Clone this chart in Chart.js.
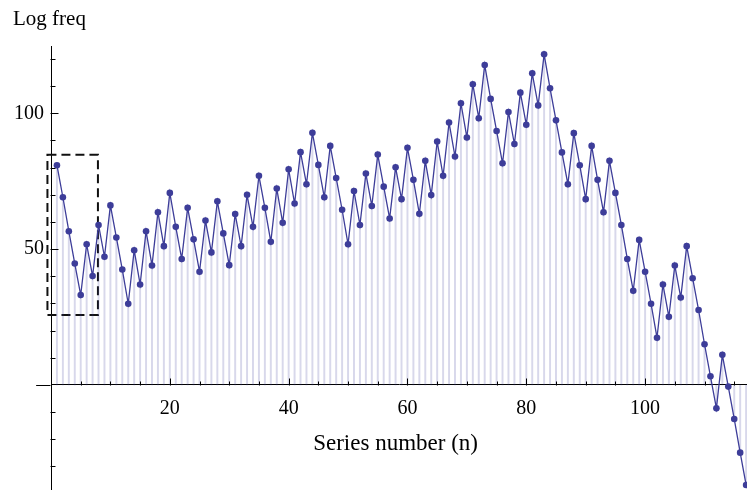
<!DOCTYPE html>
<html>
<head>
<meta charset="utf-8">
<script src="https://cdn.jsdelivr.net/npm/chart.js@4/dist/chart.umd.min.js"></script>
<style>
  html, body { margin: 0; padding: 0; background: #fff; }
  #wrap { width: 747px; height: 490px; }
</style>
</head>
<body>
<div id="wrap"><canvas id="freq-chart" width="747" height="490"></canvas></div>
<script>
// series number n
const seriesN = [
  1, 2, 3, 4, 5, 6, 7, 8, 9, 10, 11, 12, 13, 14, 15, 16, 17, 18, 19, 20,
  21, 22, 23, 24, 25, 26, 27, 28, 29, 30, 31, 32, 33, 34, 35, 36, 37, 38, 39, 40,
  41, 42, 43, 44, 45, 46, 47, 48, 49, 50, 51, 52, 53, 54, 55, 56, 57, 58, 59, 60,
  61, 62, 63, 64, 65, 66, 67, 68, 69, 70, 71, 72, 73, 74, 75, 76, 77, 78, 79, 80,
  81, 82, 83, 84, 85, 86, 87, 88, 89, 90, 91, 92, 93, 94, 95, 96, 97, 98, 99, 100,
  101, 102, 103, 104, 105, 106, 107, 108, 109, 110, 111, 112, 113, 114, 115, 116, 117
];

// log frequency for each n
const logFreq = [
  80.9, 69.1, 56.6, 44.7, 33.1, 51.8, 40.1, 58.9, 47.2, 66.1,
  54.3, 42.5, 29.9, 49.6, 37.0, 56.6, 44.0, 63.6, 51.1, 70.7,
  58.2, 46.4, 65.2, 53.6, 41.7, 60.5, 48.8, 67.6, 55.8, 44.1,
  62.9, 51.1, 70.0, 58.2, 77.0, 65.2, 52.7, 72.3, 59.7, 79.4,
  66.8, 85.7, 73.9, 92.8, 81.0, 69.1, 88.0, 76.2, 64.5, 51.8,
  71.4, 58.9, 77.8, 65.9, 84.8, 73.0, 61.3, 80.1, 68.4, 87.3,
  75.5, 63.0, 82.5, 69.9, 89.6, 77.0, 96.6, 84.1, 103.7, 91.1,
  110.7, 98.2, 117.8, 105.3, 93.5, 81.6, 100.5, 88.7, 107.6, 95.8,
  114.7, 102.9, 121.7, 109.2, 97.4, 85.6, 73.9, 92.7, 80.9, 68.4,
  88.0, 75.5, 63.6, 82.5, 70.7, 58.9, 46.4, 34.7, 53.4, 41.7,
  29.9, 17.4, 37.0, 25.1, 44.0, 32.2, 51.1, 39.3, 27.6, 15.0,
  3.2, -8.6, 11.1, -0.6, -12.5, -24.9, -36.8
];

const xTickLabels = [20, 40, 60, 80, 100];
const yTickLabels = [50, 100];
const xMinorTicks = [5, 10, 15, 25, 30, 35, 45, 50, 55, 65, 70, 75, 85, 90, 95, 105, 110, 115];
const yMinorTicks = [-30, -20, -10, 10, 20, 30, 40, 60, 70, 80, 90, 110, 120];

// dashed region around the first few terms
const boxN = [-0.6, 7.9];
const boxLog = [25.8, 84.7];

const xTitle = 'Series number (n)';
const yTitle = 'Log freq';

const ink = '#3d3d99';
const serif = '"Liberation Serif", "Times New Roman", serif';

function noPadding(scale) {
  scale.paddingLeft = 0;
  scale.paddingRight = 0;
  scale.paddingTop = 0;
  scale.paddingBottom = 0;
}

const dashedBox = {
  id: 'dashedBox',
  beforeDatasetsDraw(chart) {
    const { ctx, scales: { x, y } } = chart;
    const l = x.getPixelForValue(boxN[0]);
    const r = x.getPixelForValue(boxN[1]);
    const t = y.getPixelForValue(boxLog[1]);
    const b = y.getPixelForValue(boxLog[0]);
    ctx.save();
    ctx.strokeStyle = '#111';
    ctx.lineWidth = 2;
    ctx.setLineDash([9, 5]);
    ctx.strokeRect(l, t, r - l, b - t);
    ctx.restore();
  }
};

// inward tick marks, the short stub of the x axis left of the origin, and the titles
const axisMarks = {
  id: 'axisMarks',
  afterDraw(chart) {
    const { ctx, scales: { x, y } } = chart;
    const x0 = Math.round(x.getPixelForValue(0)) - 0.5;
    const y0 = Math.round(y.getPixelForValue(0)) + 0.5;
    ctx.save();
    ctx.strokeStyle = '#000';
    ctx.lineWidth = 1;
    ctx.beginPath();
    ctx.moveTo(x.getPixelForValue(-2.5), y0);
    ctx.lineTo(x0, y0);
    xTickLabels.forEach(v => {
      const px = Math.round(x.getPixelForValue(v)) + 0.5;
      ctx.moveTo(px, y0);
      ctx.lineTo(px, y0 - 7);
    });
    xMinorTicks.forEach(v => {
      const px = Math.round(x.getPixelForValue(v)) + 0.5;
      ctx.moveTo(px, y0);
      ctx.lineTo(px, y0 - 4);
    });
    yTickLabels.forEach(v => {
      const py = Math.round(y.getPixelForValue(v)) + 0.5;
      ctx.moveTo(x0, py);
      ctx.lineTo(x0 + 8, py);
    });
    yMinorTicks.forEach(v => {
      const py = Math.round(y.getPixelForValue(v)) + 0.5;
      ctx.moveTo(x0, py);
      ctx.lineTo(x0 + 5, py);
    });
    ctx.stroke();

    ctx.fillStyle = '#000';
    ctx.textBaseline = 'alphabetic';
    ctx.font = '21px ' + serif;
    ctx.textAlign = 'left';
    ctx.fillText(yTitle, 13, 25);
    ctx.font = '23px ' + serif;
    ctx.textAlign = 'center';
    ctx.fillText(xTitle, x.getPixelForValue(58), 450);
    ctx.restore();
  }
};

const ctx = document.getElementById('freq-chart').getContext('2d');

new Chart(ctx, {
  type: 'line',
  data: {
    labels: seriesN,
    datasets: [
      {
        type: 'line',
        data: logFreq,
        borderColor: ink,
        borderWidth: 1.3,
        pointRadius: 3.3,
        pointBackgroundColor: ink,
        pointBorderWidth: 0,
        tension: 0,
        clip: false,
        order: 0
      },
      {
        type: 'bar',
        data: logFreq,
        backgroundColor: 'rgba(61, 61, 153, 0.2)',
        barThickness: 1.3,
        clip: false,
        order: 1
      }
    ]
  },
  options: {
    responsive: false,
    animation: false,
    layout: {
      autoPadding: false,
      padding: { top: 46, left: 0, right: 0, bottom: 0 }
    },
    plugins: {
      legend: { display: false },
      tooltip: { enabled: false }
    },
    scales: {
      x: {
        type: 'linear',
        position: { y: 0 },
        min: 0,
        max: 117.15,
        offset: false,
        afterBuildTicks: s => { s.ticks = xTickLabels.map(v => ({ value: v })); },
        afterFit: noPadding,
        grid: { drawOnChartArea: false, drawTicks: false },
        border: { display: true, color: '#000', width: 1 },
        ticks: {
          autoSkip: false,
          maxRotation: 0,
          padding: 12,
          color: '#000',
          font: { family: serif, size: 20 }
        }
      },
      y: {
        type: 'linear',
        position: 'left',
        min: -38.65,
        max: 124.77,
        afterBuildTicks: s => { s.ticks = yTickLabels.map(v => ({ value: v })); },
        afterFit: s => { s.width = 51; noPadding(s); },
        grid: { drawOnChartArea: false, drawTicks: false },
        border: { display: true, color: '#000', width: 1 },
        ticks: {
          padding: 7,
          color: '#000',
          font: { family: serif, size: 20 }
        }
      }
    }
  },
  plugins: [dashedBox, axisMarks]
});
</script>
</body>
</html>
